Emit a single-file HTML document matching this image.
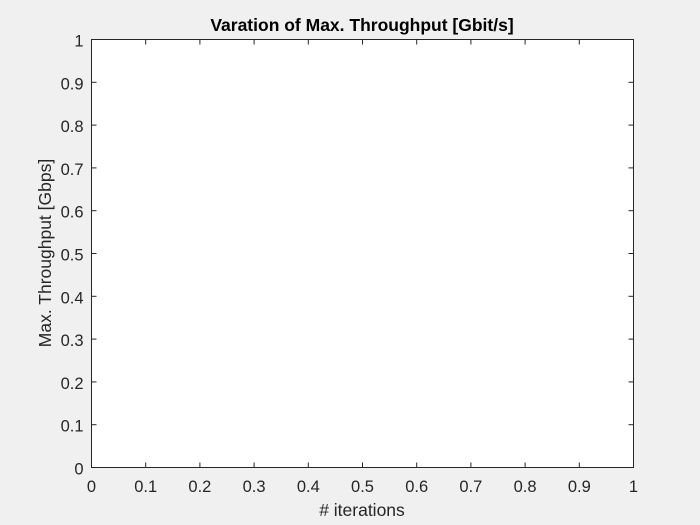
<!DOCTYPE html>
<html>
<head>
<meta charset="utf-8">
<style>
  html, body { margin: 0; padding: 0; background: #f0f0f0; }
  svg { display: block; font-family: "Liberation Sans", Arial, sans-serif; }
</style>
</head>
<body>
<svg id="chart" width="700" height="525">
  <rect x="0" y="0" width="700" height="525" fill="#f0f0f0"></rect>
  <rect x="91" y="39" width="542" height="428" fill="#ffffff"></rect>
  <g id="ticks"></g>
  <rect x="91.5" y="39.5" width="542" height="428" fill="none" stroke="#262626" stroke-width="1"></rect>
  <text x="362" y="31" text-anchor="middle" font-size="17.5" font-weight="bold" fill="#000">Varation of Max. Throughput [Gbit/s]</text>
  <text x="362" y="516" text-anchor="middle" font-size="17.5" fill="#262626"># iterations</text>
  <text transform="translate(51,253) rotate(-90)" text-anchor="middle" font-size="17.5" fill="#262626">Max. Throughput [Gbps]</text>
</svg>
<script>
const xTicks = [0, 0.1, 0.2, 0.3, 0.4, 0.5, 0.6, 0.7, 0.8, 0.9, 1];
const yTicks = [0, 0.1, 0.2, 0.3, 0.4, 0.5, 0.6, 0.7, 0.8, 0.9, 1];
const xTickLabels = ["0", "0.1", "0.2", "0.3", "0.4", "0.5", "0.6", "0.7", "0.8", "0.9", "1"];
const yTickLabels = ["0", "0.1", "0.2", "0.3", "0.4", "0.5", "0.6", "0.7", "0.8", "0.9", "1"];

const L = 91.5, R = 633.5, T = 39.5, B = 467.5;
const xMin = 0, xMax = 1, yMin = 0, yMax = 1;
function xScale(v) { return L + (v - xMin) / (xMax - xMin) * (R - L); }
function yScale(v) { return B - (v - yMin) / (yMax - yMin) * (B - T); }

const NS = "http://www.w3.org/2000/svg";
const g = document.getElementById("ticks");
function line(x1, y1, x2, y2, name) {
  const el = document.createElementNS(NS, "line");
  el.setAttribute("x1", x1); el.setAttribute("y1", y1);
  el.setAttribute("x2", x2); el.setAttribute("y2", y2);
  el.setAttribute("stroke", "#262626");
  el.setAttribute("stroke-width", "1");
  
  
  g.appendChild(el);
}
function label(x, y, s, anchor, name) {
  const el = document.createElementNS(NS, "text");
  el.setAttribute("x", x); el.setAttribute("y", y);
  el.setAttribute("text-anchor", anchor);
  el.setAttribute("font-size", "16.5");
  el.setAttribute("fill", "#262626");
  el.textContent = s;
  
  
  g.appendChild(el);
}
xTicks.forEach((v, i) => {
  const x = xScale(v);
  line(x, B, x, B - 5, "x-tick");
  line(x, T, x, T + 5, "x-tick-top");
  label(x, B + 24.5, xTickLabels[i], "middle", "x-tick-label");
});
yTicks.forEach((v, i) => {
  const y = yScale(v);
  line(L, y, L + 5, y, "y-tick");
  line(R, y, R - 5, y, "y-tick-right");
  label(L - 8, y + 7, yTickLabels[i], "end", "y-tick-label");
});
</script>
</body>
</html>
